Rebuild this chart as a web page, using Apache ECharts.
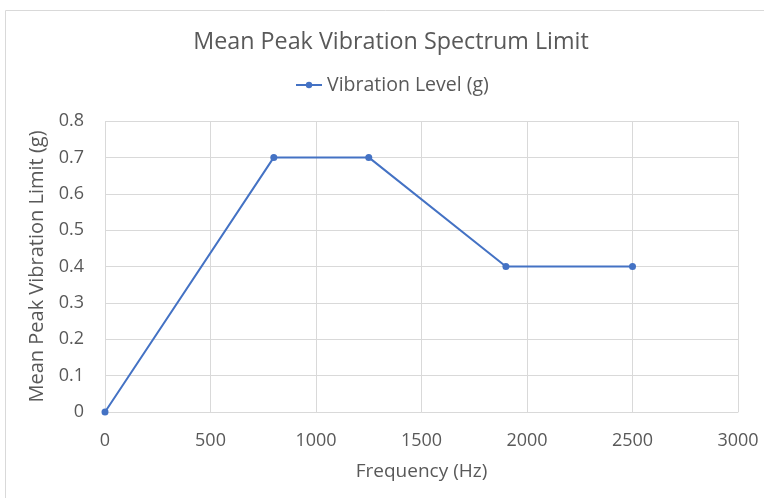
<!DOCTYPE html>
<html><head><meta charset="utf-8">
<script src="https://cdn.jsdelivr.net/npm/echarts@6/dist/echarts.min.js"></script>
<style>html,body{margin:0;padding:0;background:#fff}#c{width:764px;height:498px}</style>
</head><body><div id="c"></div>
<script>
const freq = [0, 800, 1250, 1900, 2500];
const level = [0, 0.7, 0.7, 0.4, 0.4];
const seriesName = 'Vibration Level (g)';
const titleText = 'Mean Peak Vibration Spectrum Limit';
const xName = 'Frequency (Hz)';
const yName = 'Mean Peak Vibration Limit (g)';
const FONT = 'Open Sans';
const GREY = '#595959';
const chart = echarts.init(document.getElementById('c'));
chart.setOption({
  animation: false,
  graphic: [{type:'rect', shape:{x:5.5,y:10.5,width:800,height:600}, style:{fill:'none',stroke:'#d9d9d9',lineWidth:1}, silent:true}],
  title: {text: titleText, left: 386, textAlign:'center', top: 26, textStyle:{fontFamily:FONT, fontSize:23.3, fontWeight:'normal', color:GREY}},
  legend: {top: 70, left: 290, itemWidth: 26, itemHeight: 8, itemGap: 4, textStyle:{fontFamily:FONT, fontSize:19.5, color:GREY}, data:[seriesName]},
  grid: {left: 105, right: 26, top: 121, bottom: 86},
  xAxis: {type:'value', min:0, max:3000, interval:500, name:xName, nameLocation:'middle', nameGap:50,
    nameTextStyle:{fontFamily:FONT, fontSize:19, color:GREY},
    axisLine:{show:true, lineStyle:{color:'#d9d9d9'}}, axisTick:{show:false},
    axisLabel:{fontFamily:FONT, fontSize:18, color:GREY, margin:20, formatter: v => String(v)},
    splitLine:{show:true, lineStyle:{color:'#d9d9d9'}}},
  yAxis: {type:'value', min:0, max:0.8, interval:0.1, name:yName, nameLocation:'middle', nameGap:53,
    nameTextStyle:{fontFamily:FONT, fontSize:20, color:GREY},
    axisLine:{show:false}, axisTick:{show:false},
    axisLabel:{fontFamily:FONT, fontSize:18, color:GREY, margin:21, formatter: v => String(+v.toFixed(1))},
    splitLine:{show:true, lineStyle:{color:'#d9d9d9'}}},
  series: [{name: seriesName, type:'line', data: freq.map((f,i)=>[f, level[i]]),
    symbol:'circle', symbolSize:7, lineStyle:{color:'#4472C4', width:2}, itemStyle:{color:'#4472C4'}}]
});
</script></body></html>
